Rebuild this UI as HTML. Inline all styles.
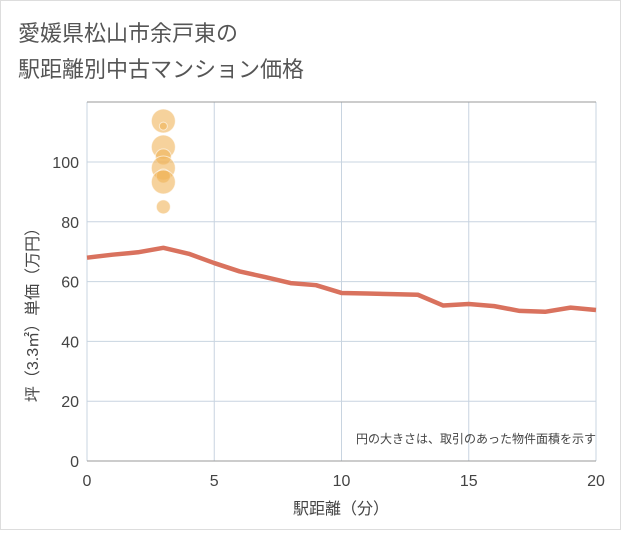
<!DOCTYPE html>
<html><head><meta charset="utf-8"><style>
body{margin:0;background:#fff;}
svg{font-family:"Liberation Sans","Noto Sans CJK JP",sans-serif;}
</style></head><body>
<svg width="621" height="530">
<rect x="0.5" y="0.5" width="620" height="529" fill="#fff" stroke="#ddd"/>
<text x="18" y="41" font-size="22" fill="#555">愛媛県松山市余戸東の</text>
<text x="18" y="77" font-size="22" fill="#555">駅距離別中古マンション価格</text>
<g id="grid"></g><g id="marks"></g>
<text x="596" y="443" font-size="12" fill="#444" text-anchor="end">円の大きさは、取引のあった物件面積を示す</text>
<text x="341" y="514" font-size="16" fill="#444" text-anchor="middle">駅距離（分）</text>
<text transform="translate(38,311) rotate(-90)" font-size="16" fill="#444" text-anchor="middle">坪（3.3㎡）単価（万円）</text>
</svg>
<script>
const xTicks=[0,5,10,15,20];
const yTicks=[0,20,40,60,80,100];
const lineX=[0,1,2,3,4,5,6,7,8,9,10,11,12,13,14,15,16,17,18,19,20];
const lineY=[68,69,69.8,71.3,69.3,66.2,63.4,61.5,59.5,58.8,56.2,56,55.8,55.6,52,52.5,51.8,50.2,49.9,51.3,50.5];
const bubX=[3,3,3,3,3,3,3,3];
const bubY=[113.7,112,105,101.7,98,95.3,93.3,85];
const bubR=[12,4,12,8,12,7,12,7];
const NS="http://www.w3.org/2000/svg";
const X0=87,X1=596,Y0=461,Y1=102;
const sx=v=>X0+(X1-X0)*v/20;
const sy=v=>Y0-(Y0-162)*v/100;
const grid=document.getElementById('grid'),marks=document.getElementById('marks');
function mk(p,tag,a){const e=document.createElementNS(NS,tag);for(const k in a)e.setAttribute(k,a[k]);p.appendChild(e);return e;}
const bg=mk(grid,'rect',{x:X0,y:Y1,width:X1-X0,height:Y0-Y1,fill:'#fff'});


xTicks.forEach(t=>{
 const l=mk(grid,'line',{x1:sx(t),x2:sx(t),y1:Y1,y2:Y0,stroke:'#c8d4e0'});
 
 
 const tx=mk(grid,'text',{x:sx(t),y:486,'font-size':16,fill:'#444','text-anchor':'middle'});tx.textContent=t;
 
 
});
yTicks.forEach(t=>{
 const l=mk(grid,'line',{x1:X0,x2:X1,y1:sy(t),y2:sy(t),stroke:t===0?'#999':'#c8d4e0'});
 
 
 const tx=mk(grid,'text',{x:79,y:sy(t)+6,'font-size':16,fill:'#444','text-anchor':'end'});tx.textContent=t;
 
 
});
const topBorder=mk(grid,'line',{x1:X0,x2:X1,y1:Y1,y2:Y1,stroke:'#999'});


bubX.forEach((v,i)=>{
 const c=mk(marks,'circle',{cx:sx(v),cy:sy(bubY[i]),r:bubR[i],fill:'rgba(240,180,90,0.6)',stroke:'rgba(255,255,255,0.6)','stroke-width':1});
 
 
});
const priceLine=mk(marks,'polyline',{points:lineX.map((v,i)=>sx(v)+','+sy(lineY[i])).join(' '),fill:'none',stroke:'#d9725e','stroke-width':4.5,'stroke-linejoin':'round'});


</script>
</body></html>
